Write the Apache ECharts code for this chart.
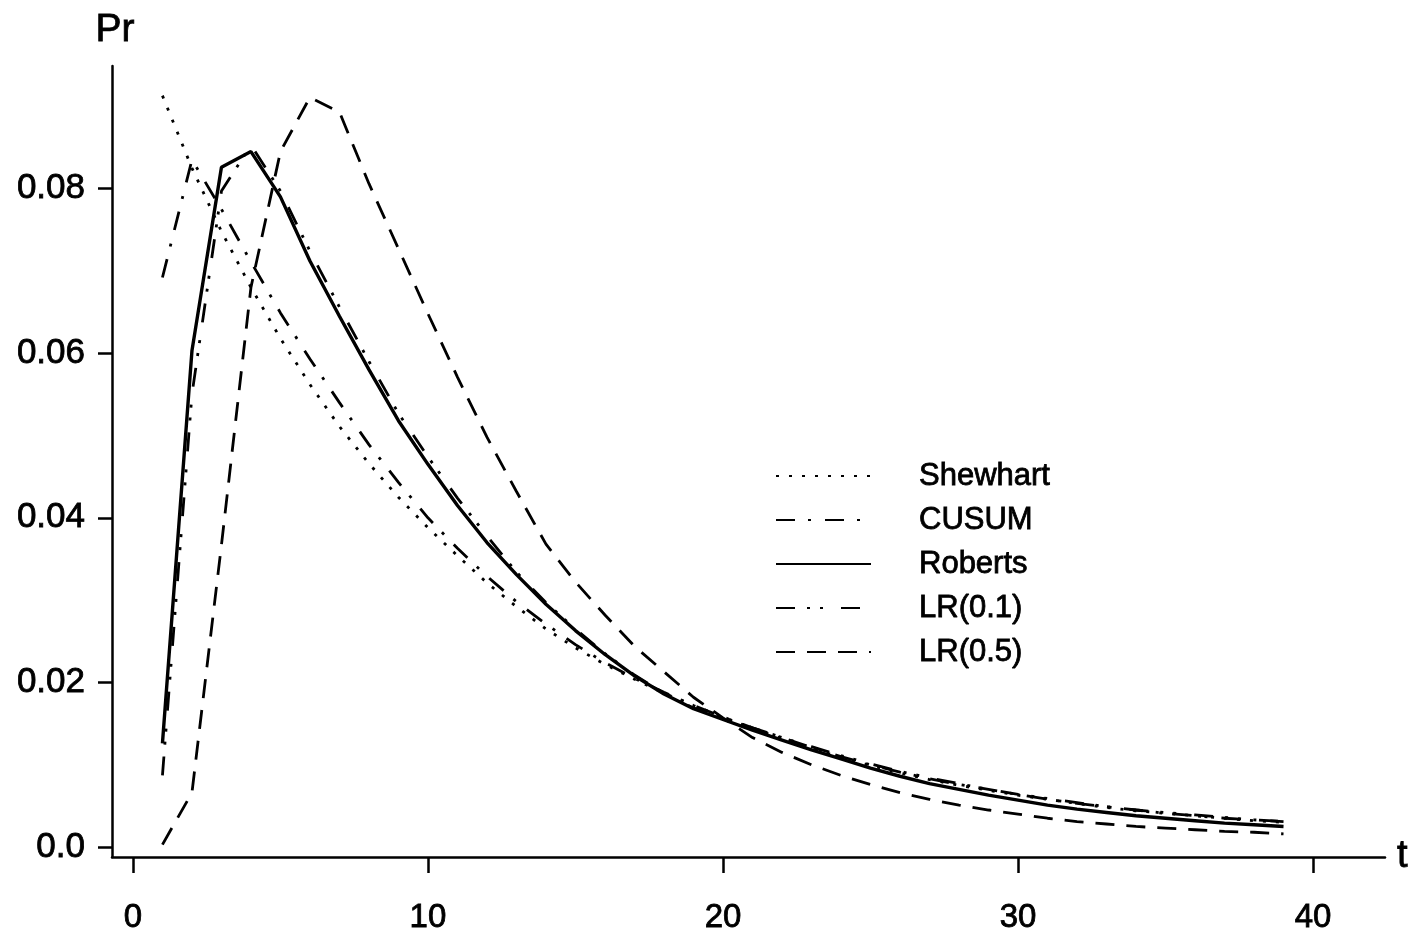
<!DOCTYPE html>
<html>
<head>
<meta charset="utf-8">
<title>Pr(t)</title>
<script src="https://cdn.jsdelivr.net/npm/echarts@6/dist/echarts.min.js"></script>
<style>
  html, body { margin: 0; padding: 0; background: #fff; }
  #chart { width: 1428px; height: 944px; }
</style>
</head>
<body>
<div id="chart"></div>
<script>
  // t = 1..39
  var steps = [1, 2, 3, 4, 5, 6, 7, 8, 9, 10, 11, 12, 13, 14, 15, 16, 17, 18, 19, 20,
    21, 22, 23, 24, 25, 26, 27, 28, 29, 30, 31, 32, 33, 34, 35, 36, 37, 38, 39];

  var shewhart = [0.0913, 0.0825, 0.0748, 0.0680, 0.0618, 0.0562, 0.0511, 0.0466, 0.0425, 0.0388,
    0.0354, 0.0321, 0.0292, 0.0265, 0.0242, 0.0222, 0.0204, 0.0187, 0.0172, 0.0158,
    0.0144, 0.0132, 0.0120, 0.0109, 0.0099, 0.0090, 0.0082, 0.0075, 0.0069, 0.0063,
    0.0058, 0.0053, 0.0048, 0.0044, 0.0041, 0.0038, 0.0035, 0.0032, 0.0030];

  var cusum = [0.0692, 0.0835, 0.0775, 0.0711, 0.0649, 0.0593, 0.0540, 0.0489, 0.0443, 0.0400,
    0.0363, 0.0329, 0.0298, 0.0271, 0.0246, 0.0224, 0.0205, 0.0188, 0.0172, 0.0158,
    0.0145, 0.0133, 0.0121, 0.0110, 0.0100, 0.0091, 0.0083, 0.0076, 0.0070, 0.0064,
    0.0058, 0.0053, 0.0049, 0.0045, 0.0041, 0.0038, 0.0035, 0.0033, 0.0031];

  var roberts = [0.0126, 0.0603, 0.0826, 0.0845, 0.0790, 0.0712, 0.0645, 0.0580, 0.0518, 0.0465,
    0.0415, 0.0370, 0.0331, 0.0295, 0.0263, 0.0234, 0.0208, 0.0186, 0.0168, 0.0155,
    0.0142, 0.0130, 0.0118, 0.0107, 0.0096, 0.0086, 0.0077, 0.0070, 0.0063, 0.0057,
    0.0051, 0.0046, 0.0042, 0.0038, 0.0035, 0.0032, 0.0029, 0.0027, 0.0025];

  var lr01 = [0.0087, 0.0550, 0.0797, 0.0853, 0.0797, 0.0724, 0.0656, 0.0590, 0.0527, 0.0474,
    0.0424, 0.0378, 0.0334, 0.0297, 0.0265, 0.0235, 0.0209, 0.0187, 0.0169, 0.0157,
    0.0145, 0.0133, 0.0122, 0.0111, 0.0101, 0.0092, 0.0084, 0.0077, 0.0070, 0.0064,
    0.0059, 0.0054, 0.0049, 0.0045, 0.0042, 0.0039, 0.0036, 0.0033, 0.0031];

  var lr05 = [0.0003, 0.0066, 0.0367, 0.0680, 0.0845, 0.0911, 0.0893, 0.0806, 0.0727, 0.0648,
    0.0571, 0.0498, 0.0432, 0.0368, 0.0322, 0.0282, 0.0244, 0.0213, 0.0182, 0.0157,
    0.0133, 0.0115, 0.0100, 0.0087, 0.0076, 0.0066, 0.0058, 0.0051, 0.0045, 0.0040,
    0.0035, 0.0031, 0.0028, 0.0025, 0.0023, 0.0021, 0.0019, 0.0018, 0.0016];

  var xTicks = [0, 10, 20, 30, 40];
  var yTicks = [0, 0.02, 0.04, 0.06, 0.08];
  var yTickLabels = ["0.0", "0.02", "0.04", "0.06", "0.08"];

  var FONT = "'Liberation Sans', Arial, sans-serif";
  // scanned print looks heavier than plain Arial
  var ink = { color: "#000", textBorderColor: "#000", textBorderWidth: 0.8 };

  function pairs(vals) {
    return steps.map(function (t, i) { return [t, vals[i]]; });
  }

  function line(name, vals, type, width) {
    return {
      name: name,
      type: "line",
      data: pairs(vals),
      symbol: "none",
      smooth: false,
      silent: true,
      lineStyle: { color: "#000", width: width, type: type },
      itemStyle: { color: "#000" }
    };
  }

  var chart = echarts.init(document.getElementById("chart"));
  var option = {
    backgroundColor: "#fff",
    animation: false,
    grid: { left: 112, right: 43, top: 66, bottom: 87 },
    legend: {
      orient: "vertical",
      left: 770,
      top: 451,
      itemWidth: 95,
      itemHeight: 14,
      itemGap: 4,
      itemStyle: { opacity: 0 },
      textStyle: Object.assign({ fontFamily: FONT, fontSize: 31, lineHeight: 32, padding: [8, 0, 0, 43] }, ink),
      data: ["Shewhart", "CUSUM", "Roberts", "LR(0.1)", "LR(0.5)"]
    },
    xAxis: {
      type: "value",
      min: -0.71,
      max: 42.44,
      name: "t",
      nameLocation: "end",
      nameGap: 12,
      nameTextStyle: Object.assign({ fontFamily: FONT, fontSize: 38, verticalAlign: "middle" }, ink),
      splitLine: { show: false },
      axisLine: { onZero: false, lineStyle: { color: "#000", width: 2.5 } },
      axisTick: { show: true, length: 16, customValues: xTicks, lineStyle: { color: "#000", width: 2.5 } },
      axisLabel: Object.assign({
        customValues: xTicks,
        margin: 44,
        fontFamily: FONT, fontSize: 33
      }, ink)
    },
    yAxis: {
      type: "value",
      min: -0.00121,
      max: 0.0949,
      name: "Pr",
      nameLocation: "end",
      nameGap: 16,
      nameTextStyle: Object.assign({ fontFamily: FONT, fontSize: 39, align: "center", padding: [0, 0, 0, 6] }, ink),
      splitLine: { show: false },
      axisLine: { onZero: false, lineStyle: { color: "#000", width: 2.5 } },
      axisTick: { show: true, length: 14, customValues: yTicks, lineStyle: { color: "#000", width: 2.5 } },
      axisLabel: Object.assign({
        customValues: yTicks,
        margin: 27,
        fontFamily: FONT, fontSize: 35,
        formatter: function (v) {
          for (var i = 0; i < yTicks.length; i++) {
            if (Math.abs(yTicks[i] - v) < 1e-9) return yTickLabels[i];
          }
          return "";
        }
      }, ink)
    },
    series: [
      line("Shewhart", shewhart, [3, 10], 2.8),
      line("CUSUM", cusum, [19, 13, 3, 14], 2.8),
      line("Roberts", roberts, "solid", 3.4),
      line("LR(0.1)", lr01, [19, 12, 3, 10, 3, 18], 2.8),
      line("LR(0.5)", lr05, [19, 12], 2.8)
    ]
  };
  chart.setOption(option);
</script>
</body>
</html>
